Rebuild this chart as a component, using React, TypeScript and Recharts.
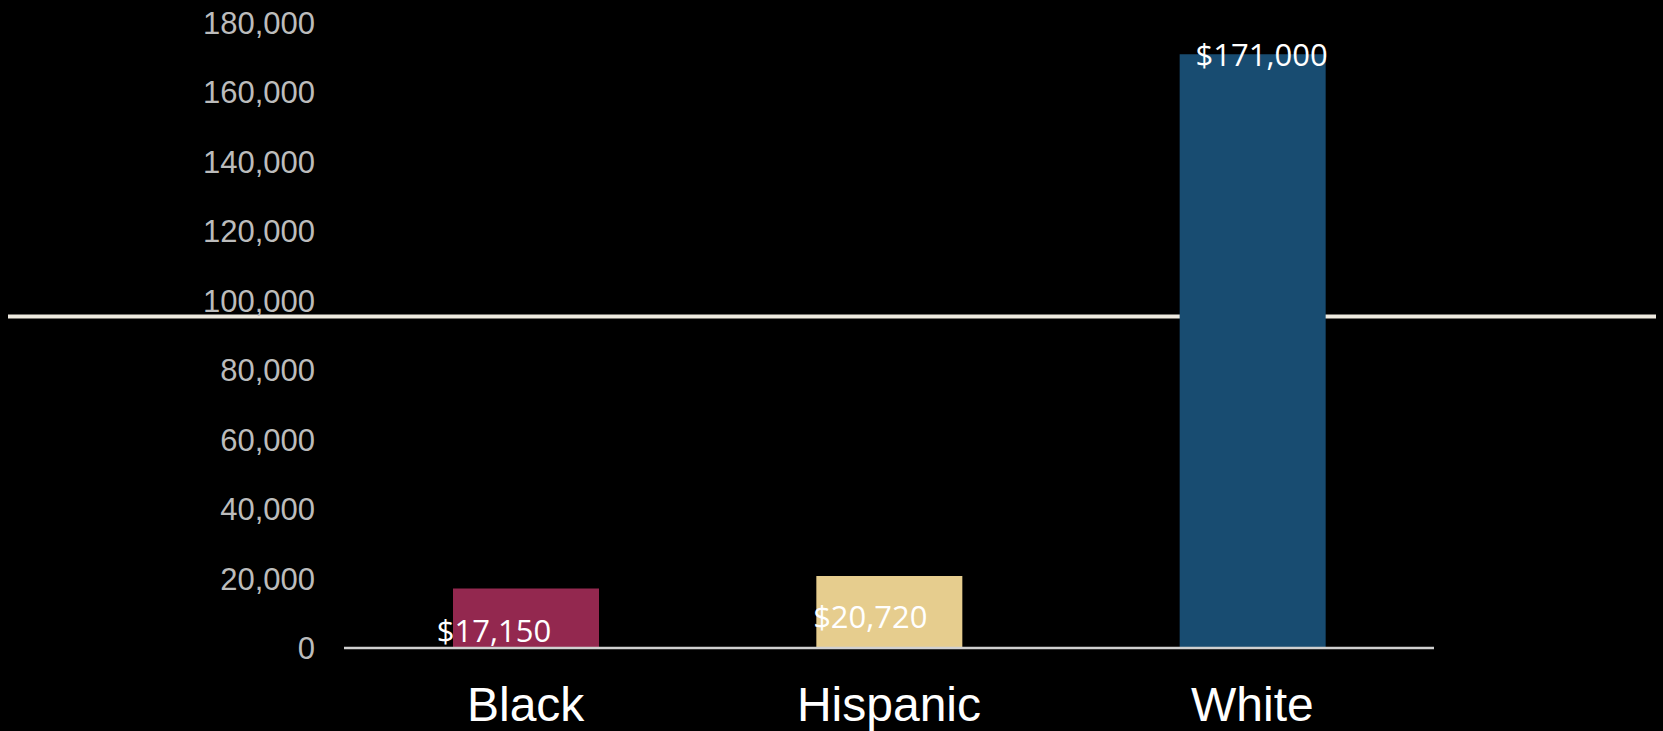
import React from 'react';
import { BarChart, Bar, XAxis, YAxis, Cell, LabelList, ReferenceLine } from 'recharts';

const groups = ['Black', 'Hispanic', 'White'];
const wealth = [17150, 20720, 171000];
const barColors = ['#93284f', '#e6cd8e', '#184c71'];
const yTicks = [0, 20000, 40000, 60000, 80000, 100000, 120000, 140000, 160000, 180000];
const overallLine = 95500;

// label placement per bar: horizontal shift from bar centre, anchored to bar bottom or top
const labelPlacement = [
    { dx: -32, from: 'bottom', dy: -6 },
    { dx: -19, from: 'bottom', dy: -20 },
    { dx: 9, from: 'top', dy: 12 },
];

const data = groups.map((g, i) => ({ group: g, wealth: wealth[i] }));

const fmtMoney = (v: number) => `$${v.toLocaleString('en-US')}`;

const ValueLabel = (props: any) => {
    const { x, y, width, height, value, index } = props;
    const p = labelPlacement[index];
    const cx = x + width / 2 + p.dx;
    const baseY = p.from === 'bottom' ? y + height + p.dy : y + p.dy;
    return (
        <text x={cx} y={baseY} textAnchor="middle" fill="#ffffff"
            style={{ fontFamily: '"Open Sans", sans-serif', fontSize: 31 }}>
            {fmtMoney(Number(value))}
        </text>
    );
};

// the cream line runs past the plot area, almost across the whole slide
const WideLine = (props: any) => {
    const { x1, x2, y1 } = props;
    return <line x1={x1 - 336} x2={x2 + 222} y1={y1} y2={y1} stroke="#eeeae0" strokeWidth={4} />;
};

export default function App() {
    return (
        <div style={{ position: 'absolute', left: 0, top: 0, width: 1663, height: 731, background: '#000' }}>
            <BarChart width={1663} height={731} data={data}
                margin={{ top: 23, right: 229, bottom: 0, left: 0 }}>
                <XAxis
                    dataKey="group"
                    height={83}
                    tickSize={0}
                    tickMargin={39}
                    tickLine={false}
                    axisLine={{ stroke: '#d0d0d0', strokeWidth: 2.5 }}
                    tick={{ fill: '#ffffff', fontSize: 48, fontFamily: '"Liberation Sans", Arial, sans-serif' }}
                />
                <YAxis
                    width={344}
                    domain={[0, 180000]}
                    ticks={yTicks}
                    interval={0}
                    tickSize={0}
                    tickMargin={29}
                    tickLine={false}
                    axisLine={false}
                    tickFormatter={(v) => Number(v).toLocaleString('en-US')}
                    tick={{ fill: '#bcbcbc', fontSize: 31, fontFamily: '"Liberation Sans", Arial, sans-serif' }}
                />
                <ReferenceLine y={overallLine} shape={WideLine} zIndex={250} />
                <Bar dataKey="wealth" barSize={146} isAnimationActive={false}>
                    {data.map((d, i) => (
                        <Cell key={d.group} fill={barColors[i]} />
                    ))}
                    <LabelList dataKey="wealth" content={ValueLabel} />
                </Bar>
            </BarChart>
        </div>
    );
}
